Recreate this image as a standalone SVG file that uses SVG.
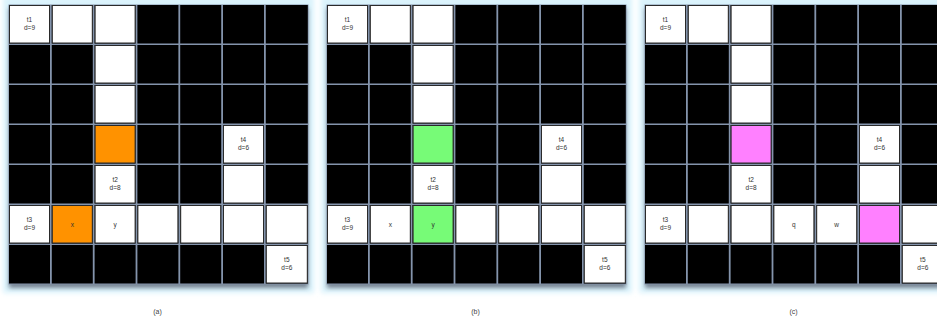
<svg xmlns="http://www.w3.org/2000/svg" width="937" height="320" viewBox="0 0 937 320">
<defs>
<filter id="glow" x="-10%" y="-10%" width="120%" height="120%"><feGaussianBlur stdDeviation="2.5"/></filter>
<filter id="shadow" x="-10%" y="-10%" width="120%" height="120%"><feGaussianBlur stdDeviation="2"/></filter>
<style>
.bg{fill:#daf3fc;}
.sh{fill:#30384a;opacity:0.6;}
.grid{fill:#8494ac;}
.b{fill:#000;}
.w{fill:#fff;stroke:#2a2a2a;stroke-width:1;}
.o{fill:#ff9200;stroke:#2a2a2a;stroke-width:1;}
.g{fill:#77fb77;stroke:#2a2a2a;stroke-width:1;}
.p{fill:#ff80ff;stroke:#2a2a2a;stroke-width:1;}
text{font-family:"Liberation Sans",Arial,sans-serif;font-size:6.5px;fill:#333;text-anchor:middle;}
.cap{font-size:7px;fill:#444;}
</style>
<g id="blackgrid">
<rect class="grid" x="8.5" y="4.5" width="300" height="280"/>
<rect class="b" x="9" y="5" width="41" height="38.5"/><rect class="b" x="51.8" y="5" width="41" height="38.5"/><rect class="b" x="94.6" y="5" width="41" height="38.5"/><rect class="b" x="137.4" y="5" width="41" height="38.5"/><rect class="b" x="180.2" y="5" width="41" height="38.5"/><rect class="b" x="223" y="5" width="41" height="38.5"/><rect class="b" x="265.8" y="5" width="42" height="38.5"/>
<rect class="b" x="9" y="45" width="41" height="38.5"/><rect class="b" x="51.8" y="45" width="41" height="38.5"/><rect class="b" x="94.6" y="45" width="41" height="38.5"/><rect class="b" x="137.4" y="45" width="41" height="38.5"/><rect class="b" x="180.2" y="45" width="41" height="38.5"/><rect class="b" x="223" y="45" width="41" height="38.5"/><rect class="b" x="265.8" y="45" width="42" height="38.5"/>
<rect class="b" x="9" y="85" width="41" height="38.5"/><rect class="b" x="51.8" y="85" width="41" height="38.5"/><rect class="b" x="94.6" y="85" width="41" height="38.5"/><rect class="b" x="137.4" y="85" width="41" height="38.5"/><rect class="b" x="180.2" y="85" width="41" height="38.5"/><rect class="b" x="223" y="85" width="41" height="38.5"/><rect class="b" x="265.8" y="85" width="42" height="38.5"/>
<rect class="b" x="9" y="125" width="41" height="38.5"/><rect class="b" x="51.8" y="125" width="41" height="38.5"/><rect class="b" x="94.6" y="125" width="41" height="38.5"/><rect class="b" x="137.4" y="125" width="41" height="38.5"/><rect class="b" x="180.2" y="125" width="41" height="38.5"/><rect class="b" x="223" y="125" width="41" height="38.5"/><rect class="b" x="265.8" y="125" width="42" height="38.5"/>
<rect class="b" x="9" y="165" width="41" height="38.5"/><rect class="b" x="51.8" y="165" width="41" height="38.5"/><rect class="b" x="94.6" y="165" width="41" height="38.5"/><rect class="b" x="137.4" y="165" width="41" height="38.5"/><rect class="b" x="180.2" y="165" width="41" height="38.5"/><rect class="b" x="223" y="165" width="41" height="38.5"/><rect class="b" x="265.8" y="165" width="42" height="38.5"/>
<rect class="b" x="9" y="205" width="41" height="38.5"/><rect class="b" x="51.8" y="205" width="41" height="38.5"/><rect class="b" x="94.6" y="205" width="41" height="38.5"/><rect class="b" x="137.4" y="205" width="41" height="38.5"/><rect class="b" x="180.2" y="205" width="41" height="38.5"/><rect class="b" x="223" y="205" width="41" height="38.5"/><rect class="b" x="265.8" y="205" width="42" height="38.5"/>
<rect class="b" x="9" y="245" width="41" height="38.5"/><rect class="b" x="51.8" y="245" width="41" height="38.5"/><rect class="b" x="94.6" y="245" width="41" height="38.5"/><rect class="b" x="137.4" y="245" width="41" height="38.5"/><rect class="b" x="180.2" y="245" width="41" height="38.5"/><rect class="b" x="223" y="245" width="41" height="38.5"/><rect class="b" x="265.8" y="245" width="42" height="38.5"/>
</g>
<g id="base">
<rect class="bg" x="3" y="-4" width="311" height="297" filter="url(#glow)"/>
<rect class="sh" x="9" y="8" width="299" height="280" filter="url(#shadow)"/>
<use href="#blackgrid"/>
<rect class="w" x="9.5" y="5.5" width="40" height="37.5"/>
<rect class="w" x="52.3" y="5.5" width="40" height="37.5"/>
<rect class="w" x="95.1" y="5.5" width="40" height="37.5"/>
<rect class="w" x="95.1" y="45.5" width="40" height="37.5"/>
<rect class="w" x="95.1" y="85.5" width="40" height="37.5"/>
<rect class="w" x="223.5" y="125.5" width="40" height="37.5"/>
<rect class="w" x="95.1" y="165.5" width="40" height="37.5"/>
<rect class="w" x="223.5" y="165.5" width="40" height="37.5"/>
<rect class="w" x="9.5" y="205.5" width="40" height="37.5"/>
<rect class="w" x="52.3" y="205.5" width="40" height="37.5"/>
<rect class="w" x="95.1" y="205.5" width="40" height="37.5"/>
<rect class="w" x="137.9" y="205.5" width="40" height="37.5"/>
<rect class="w" x="180.7" y="205.5" width="40" height="37.5"/>
<rect class="w" x="223.5" y="205.5" width="40" height="37.5"/>
<rect class="w" x="266.3" y="205.5" width="41" height="37.5"/>
<rect class="w" x="266.3" y="245.5" width="41" height="37.5"/>
<text x="29.5" y="21.5">t1</text><text x="29.5" y="30">d=9</text>
<text x="243.5" y="141.5">t4</text><text x="243.5" y="150">d=6</text>
<text x="115.1" y="181.5">t2</text><text x="115.1" y="190">d=8</text>
<text x="29.5" y="221.5">t3</text><text x="29.5" y="230">d=9</text>
<text x="286.8" y="261.5">t5</text><text x="286.8" y="270">d=6</text>
</g>
</defs>

<g id="panel-a">
<use href="#base"/>
<g id="a-orange1"><rect class="o" x="95.1" y="125.5" width="40" height="37.5"/></g>
<g id="a-x"><rect class="o" x="52.3" y="205.5" width="40" height="37.5"/><text x="72.3" y="226.5">x</text></g>
<g id="a-y"><text x="115.1" y="226.5">y</text></g>
<text class="cap" x="157.5" y="314">(a)</text>
</g>

<g id="panel-b" transform="translate(318,0)">
<use href="#base"/>
<g id="b-green1"><rect class="g" x="95.1" y="125.5" width="40" height="37.5"/></g>
<g id="b-x"><text x="72.3" y="226.5">x</text></g>
<g id="b-y"><rect class="g" x="95.1" y="205.5" width="40" height="37.5"/><text x="115.1" y="226.5">y</text></g>
<text class="cap" x="157.5" y="314">(b)</text>
</g>

<g id="panel-c" transform="translate(636,0)">
<use href="#base"/>
<g id="c-pink1"><rect class="p" x="95.1" y="125.5" width="40" height="37.5"/></g>
<g id="c-q"><text x="157.9" y="226.5">q</text></g>
<g id="c-w"><text x="200.7" y="226.5">w</text></g>
<g id="c-pink2"><rect class="p" x="223.5" y="205.5" width="40" height="37.5"/></g>
<text class="cap" x="157.5" y="314">(c)</text>
</g>
<g id="connectors"/>
</svg>
